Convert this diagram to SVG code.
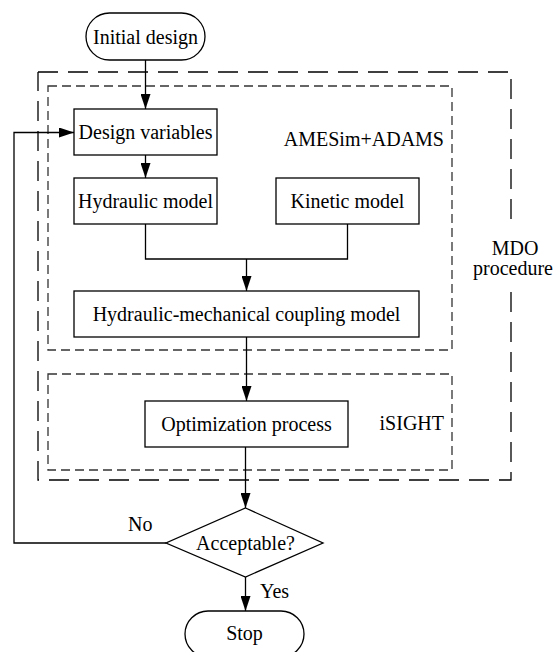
<svg xmlns="http://www.w3.org/2000/svg" width="554" height="652" viewBox="0 0 554 652">
  <style>
    .box { fill: #fff; stroke: #000; stroke-width: 1.3; }
    .lbl { font-family: "Liberation Serif", "Times New Roman", serif; font-size: 20px; fill: #000; }
    .mid { text-anchor: middle; }
    .end { text-anchor: end; }
    .wire { fill: none; stroke: #000; stroke-width: 1.3; }
    .outer { fill: none; stroke: #000; stroke-width: 1.3; stroke-dasharray: 20 10; }
    .inner { fill: none; stroke: #333; stroke-width: 1.3; stroke-dasharray: 9 5; }
  </style>
  <defs>
    <marker id="arrow" viewBox="0 0 15 10" refX="15" refY="5" markerWidth="15" markerHeight="10" markerUnits="userSpaceOnUse" orient="auto">
      <path d="M0,0 L15,5 L0,10 Z" fill="#000"/>
    </marker>
  </defs>

  <rect width="554" height="652" fill="#fff"/>

  <!-- grouping frames -->
  <g id="frames">
    <path class="outer" d="M38,72 H511 V226 M511,292 V480 H38 V72"/>
    <rect class="inner" x="48" y="86" width="404" height="264"/>
    <rect class="inner" x="48" y="374" width="404" height="96"/>
    <text class="lbl end" x="444" y="146">AMESim+ADAMS</text>
    <text class="lbl end" x="444" y="430">iSIGHT</text>
    <text class="lbl mid" x="515" y="255">MDO</text>
    <text class="lbl mid" x="513" y="275">procedure</text>
  </g>

  <!-- connectors -->
  <g id="connectors">
    <line class="wire" x1="145.5" y1="60" x2="145.5" y2="109" marker-end="url(#arrow)"/>
    <line class="wire" x1="145.5" y1="155" x2="145.5" y2="178" marker-end="url(#arrow)"/>
    <polyline class="wire" points="145.5,224 145.5,259 347.5,259 347.5,224"/>
    <line class="wire" x1="246.5" y1="259" x2="246.5" y2="291" marker-end="url(#arrow)"/>
    <line class="wire" x1="246.5" y1="337" x2="246.5" y2="401" marker-end="url(#arrow)"/>
    <line class="wire" x1="245.5" y1="447" x2="245.5" y2="508" marker-end="url(#arrow)"/>
    <line class="wire" x1="245.5" y1="577" x2="245.5" y2="611" marker-end="url(#arrow)"/>
    <polyline class="wire" points="166,543 14,543 14,132.5 74,132.5" marker-end="url(#arrow)"/>
    <text class="lbl" x="128" y="531">No</text>
    <text class="lbl" x="260" y="598">Yes</text>
  </g>

  <g id="initial-design">
    <rect class="box" x="86" y="13" width="119" height="47" rx="23.5"/>
    <text class="lbl mid" x="145.5" y="43.5">Initial design</text>
  </g>

  <g id="design-variables">
    <rect class="box" x="74" y="109" width="143" height="46"/>
    <text class="lbl mid" x="145.5" y="139">Design variables</text>
  </g>

  <g id="hydraulic-model">
    <rect class="box" x="74" y="178" width="143" height="46"/>
    <text class="lbl mid" x="145.5" y="208">Hydraulic model</text>
  </g>

  <g id="kinetic-model">
    <rect class="box" x="276" y="178" width="143" height="46"/>
    <text class="lbl mid" x="347.5" y="208">Kinetic model</text>
  </g>

  <g id="coupling-model">
    <rect class="box" x="74" y="291" width="345" height="46"/>
    <text class="lbl mid" x="246.5" y="321">Hydraulic-mechanical coupling model</text>
  </g>

  <g id="optimization-process">
    <rect class="box" x="145" y="401" width="203" height="46"/>
    <text class="lbl mid" x="246.5" y="431">Optimization process</text>
  </g>

  <g id="acceptable">
    <polygon class="box" points="245.5,508 323,543 245.5,577 166,543"/>
    <text class="lbl mid" x="245.5" y="550">Acceptable?</text>
  </g>

  <g id="stop">
    <rect class="box" x="185" y="611" width="119" height="46" rx="23"/>
    <text class="lbl mid" x="244.5" y="640">Stop</text>
  </g>
</svg>
